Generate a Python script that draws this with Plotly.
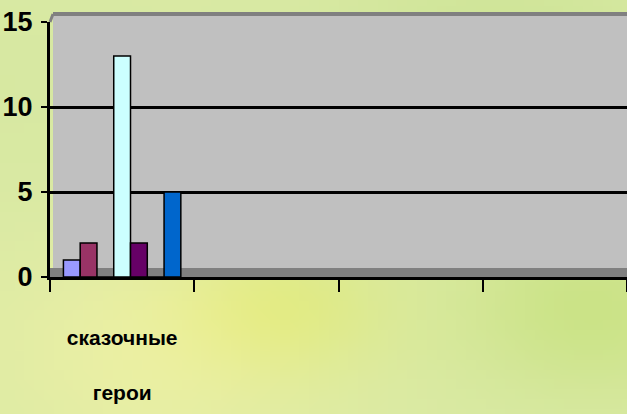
import base64
import struct
import zlib
import numpy as np
import plotly.graph_objects as go

categories = ["сказочные<br> <br>герои", " ", "  ", "   "]
series_names = ["Ряд1", "Ряд2", "Ряд3", "Ряд4", "Ряд5", "Ряд6", "Ряд7"]
series_values = [1, 2, 0, 13, 2, 0, 5]
series_colors = ["#9999FF", "#993366", "#FFFFCC", "#CCFFFF", "#660066", "#FF8080", "#0066CC"]
y_ticks = [0, 5, 10, 15]

FONT = "Liberation Sans, Arial, sans-serif"

W, H = 627, 414
L, R, T, B = 50, 0, 22, 137


def background_png():
    # soft green-yellow backdrop (decoration only)
    w, h = 64, 42
    yy, xx = np.mgrid[0:h, 0:w] / np.array([h - 1, w - 1])[:, None, None]
    base = np.array([218, 234, 165], float)
    img = np.zeros((h, w, 3)) + base
    def blob(cx, cy, r, col, amt):
        d = np.exp(-(((xx - cx) ** 2) + ((yy - cy) ** 2)) / (2 * r * r))
        return d[..., None] * (np.array(col, float) - base) * amt
    img += blob(0.25, 0.85, 0.2, (236, 240, 165), 1.0)
    img += blob(0.45, 0.75, 0.12, (218, 232, 120), 0.7)
    img += blob(0.8, 0.1, 0.2, (205, 228, 150), 0.8)
    img += blob(0.95, 0.75, 0.15, (200, 226, 128), 0.8)
    img += blob(0.0, 0.2, 0.2, (214, 232, 160), 0.6)
    img = np.clip(img, 0, 255).astype(np.uint8)
    raw = b"".join(b"\x00" + img[i].tobytes() for i in range(h))
    def chunk(t, d):
        c = struct.pack(">I", len(d)) + t + d
        return c + struct.pack(">I", zlib.crc32(t + d) & 0xFFFFFFFF)
    png = b"\x89PNG\r\n\x1a\n" + chunk(b"IHDR", struct.pack(">IIBBBBB", w, h, 8, 2, 0, 0, 0))
    png += chunk(b"IDAT", zlib.compress(raw)) + chunk(b"IEND", b"")
    return "data:image/png;base64," + base64.b64encode(png).decode()


fig = go.Figure()
for name, val, col in zip(series_names, series_values, series_colors):
    fig.add_trace(go.Bar(
        x=[categories[0]], y=[val], name=name,
        marker=dict(color=col, line=dict(color="black", width=1.5)),
    ))

pw, ph = W - L - R, H - T - B
wall_x0 = 3 / pw
wall_top = 1 + 8 / ph
fig.update_layout(
    width=W, height=H,
    margin=dict(l=L, r=R, t=T, b=B, autoexpand=False),
    paper_bgcolor="#DCEAA6",
    plot_bgcolor="#C0C0C0",
    showlegend=False,
    barmode="group",
    bargap=0.186,
    bargroupgap=0,
    images=[dict(source=background_png(), xref="paper", yref="paper",
                 x=-L / pw, y=1 + T / ph, sizex=W / pw, sizey=H / ph,
                 sizing="stretch", layer="below", xanchor="left", yanchor="top")],
    xaxis=dict(
        type="category",
        categoryorder="array", categoryarray=categories,
        range=[-0.5, 3.5],
        showline=True, linecolor="black", linewidth=3,
        ticks="outside", tickson="boundaries", ticklen=12, tickwidth=2, tickcolor="black",
        tickangle=0, automargin=False, ticklabelstandoff=40,
        tickfont=dict(family=FONT, size=21, color="black", weight="bold"),
        showgrid=False,
    ),
    yaxis=dict(
        range=[0, 15],
        tickvals=y_ticks,
        showline=True, linecolor="black", linewidth=3,
        ticks="outside", ticklen=6, tickwidth=2, tickcolor="black",
        automargin=False, ticklabelstandoff=3,
        tickfont=dict(family=FONT, size=27, color="black", weight="bold"),
        showgrid=True, gridcolor="black", gridwidth=3,
        zeroline=False,
    ),
    shapes=[
        dict(type="rect", xref="paper", yref="paper", x0=wall_x0, x1=1, y0=0, y1=wall_top,
             fillcolor="#C0C0C0", line=dict(width=0), layer="below"),
        dict(type="rect", xref="paper", yref="paper", x0=0, x1=1, y0=0.0, y1=0.035,
             fillcolor="#808080", line=dict(width=0), layer="below"),
        dict(type="line", xref="paper", yref="paper", x0=wall_x0, x1=1, y0=wall_top, y1=wall_top,
             line=dict(color="#808080", width=4), layer="above"),
        dict(type="line", xref="paper", yref="paper", x0=0, x1=wall_x0, y0=1, y1=wall_top,
             line=dict(color="#808080", width=3), layer="above"),
    ],
)

fig.write_html("out.html", config={"displayModeBar": False},
               post_script="document.body.style.margin='0';")
